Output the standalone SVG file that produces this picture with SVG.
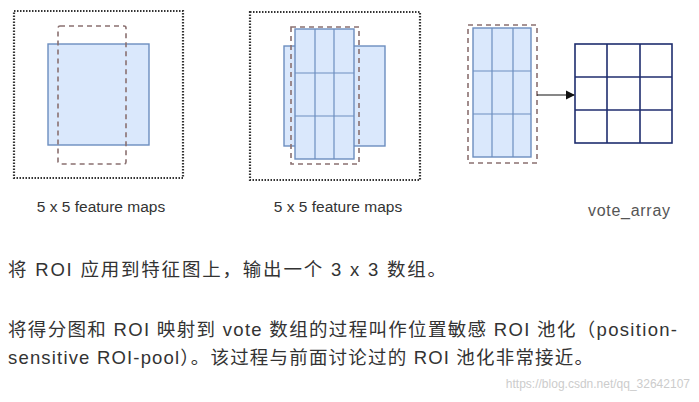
<svg xmlns="http://www.w3.org/2000/svg" width="699" height="402" viewBox="0 0 699 402">
<style>
.dot{fill:none;stroke:#333;stroke-width:2.2;stroke-dasharray:1.5 1.5}
.dash{fill:none;stroke:#8a7070;stroke-width:1.6;stroke-dasharray:5 4}
.blue{fill:#dae8fc;stroke:#6c8ebf;stroke-width:1.4}
.gl{stroke:#6c8ebf;stroke-width:1.2}
.nv{fill:none;stroke:#1f2d6e;stroke-width:1.6}
.lbl{font-family:"Liberation Sans",Arial,sans-serif;font-size:15.5px;fill:#333}
.t{font-family:"Liberation Sans","Noto Sans CJK SC",sans-serif;font-size:18.5px;fill:#333}
</style>
<defs><marker id="ah" markerWidth="8" markerHeight="8" refX="7" refY="4" orient="auto"><path d="M0,0 L8,4 L0,8 z" fill="#111"/></marker></defs>
<rect width="699" height="402" fill="#fff"/>
<g id="panel1">
<rect class="dot" x="14" y="11" width="169" height="167"/>
<rect class="blue" x="48" y="44" width="101" height="101"/>
<rect class="dash" x="58" y="26" width="68" height="138" rx="2"/>
<text class="lbl" x="101" y="212" text-anchor="middle">5 x 5 feature maps</text>
</g>
<g id="panel2">
<rect class="dot" x="250" y="12" width="170" height="168"/>
<rect class="blue" x="284" y="46" width="101" height="100"/>
<rect class="blue" x="295" y="29" width="59" height="130"/>
<line class="gl" x1="315" y1="29" x2="315" y2="159"/><line class="gl" x1="334" y1="29" x2="334" y2="159"/>
<line class="gl" x1="295" y1="73" x2="354" y2="73"/><line class="gl" x1="295" y1="116" x2="354" y2="116"/>
<rect class="dash" x="291" y="27" width="68" height="137"/>
<text class="lbl" x="338" y="212" text-anchor="middle">5 x 5 feature maps</text>
</g>
<g id="panel3">
<rect class="blue" x="473" y="28" width="58" height="129"/>
<line class="gl" x1="492" y1="28" x2="492" y2="157"/><line class="gl" x1="513" y1="28" x2="513" y2="157"/>
<line class="gl" x1="473" y1="71" x2="531" y2="71"/><line class="gl" x1="473" y1="114" x2="531" y2="114"/>
<rect class="dash" x="468" y="25" width="69" height="138"/>
</g>
<g id="vote">
<rect class="nv" x="575" y="44" width="97" height="99"/>
<line class="nv" x1="607" y1="44" x2="607" y2="143"/><line class="nv" x1="640" y1="44" x2="640" y2="143"/>
<line class="nv" x1="575" y1="77" x2="672" y2="77"/><line class="nv" x1="575" y1="110" x2="672" y2="110"/>
<text x="588" y="216" textLength="82" font-family="Liberation Sans,sans-serif" font-size="16" fill="#555">vote_array</text>
</g>
<g id="connectors">
<line x1="537" y1="95" x2="574" y2="95" stroke="#111" stroke-width="1.2" marker-end="url(#ah)"/>
</g>
<text class="t" x="8" y="276" textLength="438">将 ROI 应用到特征图上，输出一个 3 x 3 数组。</text>
<text class="t" x="8" y="336" textLength="669">将得分图和 ROI 映射到 vote 数组的过程叫作位置敏感 ROI 池化（position-</text>
<text class="t" x="8" y="364" textLength="585">sensitive ROI-pool）。该过程与前面讨论过的 ROI 池化非常接近。</text>
<text x="690" y="388" text-anchor="end" font-family="Liberation Sans,sans-serif" font-size="12" fill="#ccc">https://blog.csdn.net/qq_32642107</text>
</svg>
